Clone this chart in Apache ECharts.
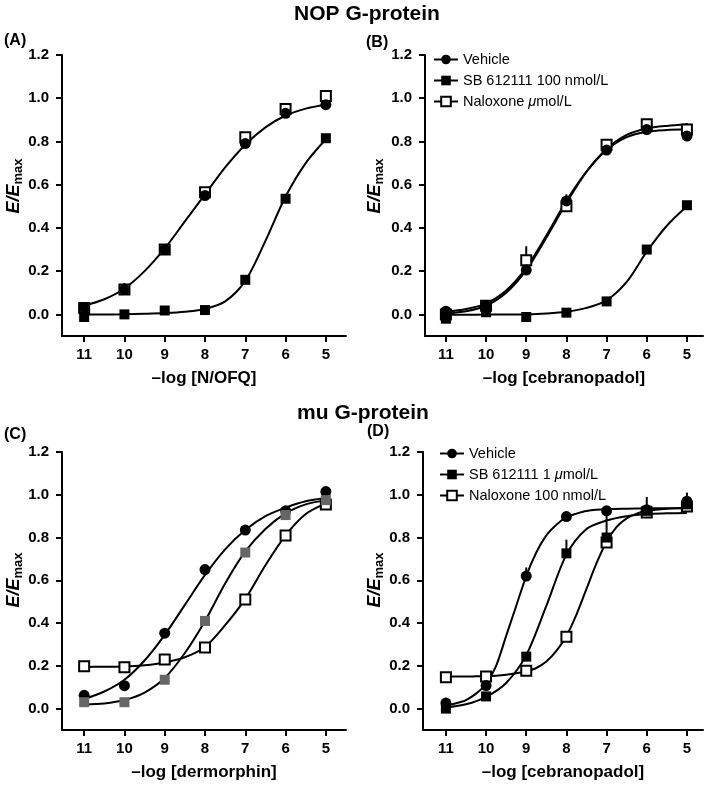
<!DOCTYPE html>
<html>
<head>
<meta charset="utf-8">
<script src="https://cdn.jsdelivr.net/npm/echarts@6/dist/echarts.min.js"></script>
<style>
  html, body { margin: 0; padding: 0; background: #fff; }
  #chart { width: 709px; height: 787px; }
</style>
</head>
<body>
<div id="chart"></div>
<script>
// -log concentration of each point, same for every panel
const doses = [11, 10, 9, 8, 7, 6, 5];
const xTicks = [11, 10, 9, 8, 7, 6, 5];
const yTicks = [0, 0.2, 0.4, 0.6, 0.8, 1.0, 1.2];

// (A) NOP, N/OFQ
const vehA = [0.03, 0.115, 0.30, 0.55, 0.79, 0.93, 0.97];
const sbA = [-0.012, 0.0, 0.018, 0.02, 0.16, 0.535, 0.815];
const nalA = [0.03, 0.115, 0.30, 0.565, 0.82, 0.95, 1.01];
const fitVehA = [[11, 0.04], [10.5, 0.07], [10, 0.12], [9.5, 0.20], [9, 0.305], [8.5, 0.43], [8, 0.555], [7.5, 0.68], [7, 0.785], [6.5, 0.865], [6, 0.92], [5.5, 0.952], [5, 0.97]];
const fitSbA = [[11, 0.0], [10.5, 0.0], [10, 0.001], [9.5, 0.003], [9, 0.006], [8.5, 0.012], [8, 0.025], [7.5, 0.06], [7, 0.155], [6.5, 0.34], [6, 0.545], [5.5, 0.70], [5, 0.81]];
const errA = [[10, 0.12, 0.145]];

// (B) NOP, cebranopadol
const vehB = [0.015, 0.04, 0.205, 0.525, 0.76, 0.855, 0.825];
const sbB = [-0.02, 0.01, -0.012, 0.008, 0.06, 0.30, 0.505];
const nalB = [0.0, 0.04, 0.25, 0.50, 0.785, 0.88, 0.855];
const fitVehB = [[11, 0.012], [10.5, 0.025], [10, 0.05], [9.5, 0.11], [9, 0.215], [8.5, 0.365], [8, 0.525], [7.5, 0.66], [7, 0.76], [6.5, 0.82], [6, 0.845], [5.5, 0.853], [5, 0.856]];
const fitNalB = [[11, 0.005], [10.5, 0.015], [10, 0.04], [9.5, 0.10], [9, 0.205], [8.5, 0.355], [8, 0.515], [7.5, 0.66], [7, 0.765], [6.5, 0.83], [6, 0.86], [5.5, 0.872], [5, 0.878]];
const fitSbB = [[11, -0.002], [10.5, -0.002], [10, -0.001], [9.5, -0.001], [9, 0.0], [8.5, 0.004], [8, 0.012], [7.5, 0.03], [7, 0.065], [6.5, 0.15], [6, 0.29], [5.5, 0.41], [5, 0.50]];
const errB = [[9, 0.25, 0.315], [8, 0.525, 0.555], [5, 0.855, 0.885]];

// (C) mu, dermorphin
const vehC = [0.062, 0.107, 0.353, 0.65, 0.835, 0.925, 1.015];
const sbC = [0.03, 0.03, 0.135, 0.41, 0.73, 0.905, 0.975];
const nalC = [0.198, 0.194, 0.23, 0.286, 0.51, 0.81, 0.955];
const fitVehC = [[11, 0.045], [10.5, 0.08], [10, 0.135], [9.5, 0.225], [9, 0.345], [8.5, 0.485], [8, 0.625], [7.5, 0.745], [7, 0.835], [6.5, 0.9], [6, 0.94], [5.5, 0.97], [5, 0.985]];
const fitSbC = [[11, 0.019], [10.5, 0.024], [10, 0.04], [9.5, 0.075], [9, 0.143], [8.5, 0.26], [8, 0.41], [7.5, 0.585], [7, 0.735], [6.5, 0.84], [6, 0.913], [5.5, 0.955], [5, 0.975]];
const fitNalC = [[11, 0.195], [10.5, 0.196], [10, 0.197], [9.5, 0.203], [9, 0.216], [8.5, 0.24], [8, 0.288], [7.5, 0.39], [7, 0.513], [6.5, 0.67], [6, 0.81], [5.5, 0.91], [5, 0.96]];
const errC = [[9, 0.23, 0.255]];

// (D) mu, cebranopadol
const vehD = [0.026, 0.108, 0.62, 0.898, 0.925, 0.93, 0.97];
const sbD = [0.0, 0.057, 0.243, 0.726, 0.80, 0.925, 0.955];
const nalD = [0.147, 0.15, 0.177, 0.336, 0.777, 0.917, 0.945];
const fitVehD = [[11, 0.015], [10.75, 0.025], [10.5, 0.04], [10.25, 0.07], [10, 0.115], [9.75, 0.2], [9.5, 0.34], [9.25, 0.48], [9, 0.62], [8.75, 0.73], [8.5, 0.81], [8.25, 0.86], [8, 0.895], [7.75, 0.912], [7.5, 0.924], [7, 0.933], [6.5, 0.935], [6, 0.936], [5.5, 0.937], [5, 0.937]];
const fitSbD = [[11, 0.005], [10.5, 0.02], [10, 0.055], [9.5, 0.12], [9, 0.25], [8.5, 0.48], [8, 0.72], [7.5, 0.84], [7, 0.88], [6.5, 0.90], [6, 0.91], [5.5, 0.913], [5, 0.915]];
const fitNalD = [[11, 0.15], [10.75, 0.15], [10.5, 0.15], [10.25, 0.151], [10, 0.152], [9.75, 0.154], [9.5, 0.158], [9.25, 0.165], [9, 0.175], [8.75, 0.19], [8.5, 0.22], [8.25, 0.27], [8, 0.34], [7.75, 0.44], [7.5, 0.56], [7.25, 0.68], [7, 0.78], [6.75, 0.85], [6.5, 0.89], [6.25, 0.912], [6, 0.925], [5.5, 0.935], [5, 0.938]];
const errD = [[9, 0.62, 0.66], [8, 0.726, 0.79], [7, 0.80, 0.93], [6, 0.925, 0.99], [5, 0.97, 1.01]];

const FONT = '"Liberation Sans", Arial, Helvetica, sans-serif';
const legendB = ['Vehicle', 'SB 612111 100 nmol/L', 'Naloxone μmol/L'];
const legendD = ['Vehicle', 'SB 612111 1 μmol/L', 'Naloxone 100 nmol/L'];

const chart = echarts.init(document.getElementById('chart'));

// 面板位置
const grids = [
  { left: 62, top: 55, width: 284, height: 281 },
  { left: 425, top: 55, width: 278, height: 281 },
  { left: 62, top: 452, width: 284, height: 278 },
  { left: 423, top: 452, width: 280, height: 278 }
];
const xRanges = [[4.5, 11.55], [4.6, 11.52], [4.5, 11.55], [4.6, 11.57]];
const xNames = ['–log [N/OFQ]', '–log [cebranopadol]', '–log [dermorphin]', '–log [cebranopadol]'];

const xAxes = grids.map((g, i) => ({
  gridIndex: i,
  type: 'value',
  inverse: true,
  min: xRanges[i][0],
  max: xRanges[i][1],
  name: xNames[i],
  nameLocation: 'middle',
  nameGap: 34,
  nameTextStyle: { fontFamily: FONT, fontWeight: 'bold', fontSize: 17, color: '#000' },
  axisLine: { onZero: false, lineStyle: { color: '#000', width: 2 } },
  axisTick: { customValues: xTicks, length: 6, lineStyle: { color: '#000', width: 2 } },
  axisLabel: { customValues: xTicks, margin: 11, fontFamily: FONT, fontWeight: 'bold', fontSize: 15, color: '#000' },
  splitLine: { show: false }
}));

const yAxes = grids.map((g, i) => ({
  gridIndex: i,
  type: 'value',
  min: -0.1,
  max: 1.2,
  axisLine: { onZero: false, lineStyle: { color: '#000', width: 2 } },
  axisTick: { customValues: yTicks, length: 6, lineStyle: { color: '#000', width: 2 } },
  axisLabel: {
    customValues: yTicks, margin: 13, fontFamily: FONT, fontWeight: 'bold', fontSize: 15, color: '#000',
    formatter: v => v.toFixed(1)
  },
  splitLine: { show: false }
}));

function toPairs(vals) {
  return doses.map((d, k) => [d, vals[k]]);
}

function fitLine(i, data) {
  return {
    type: 'line', name: 'fit' + i, xAxisIndex: i, yAxisIndex: i,
    data: data, showSymbol: false, silent: true, z: 2,
    smooth: 0.3,
    lineStyle: { color: '#000', width: 2 }
  };
}

function points(i, name, vals, kind, color) {
  const sym = kind === 'circle' ? 'circle' : 'rect';
  const open = kind === 'open';
  return {
    type: 'line', name: name, xAxisIndex: i, yAxisIndex: i,
    data: toPairs(vals), symbol: sym, symbolSize: kind === 'circle' ? 11 : 10,
    showAllSymbol: true, z: open ? 3 : 4,
    lineStyle: { opacity: 0 },
    itemStyle: open
      ? { color: '#fff', borderColor: '#000', borderWidth: 2 }
      : { color: color || '#000', borderWidth: 0 }
  };
}

function errBars(i, data) {
  return {
    type: 'custom', name: 'err' + i, xAxisIndex: i, yAxisIndex: i, silent: true, z: 3,
    data: data,
    encode: { x: 0, y: [1, 2] },
    renderItem: (params, api) => {
      const p0 = api.coord([api.value(0), api.value(1)]);
      const p1 = api.coord([api.value(0), api.value(2)]);
      return {
        type: 'line',
        shape: { x1: p0[0], y1: p0[1], x2: p1[0], y2: p1[1] },
        style: { stroke: '#000', lineWidth: 2 }
      };
    }
  };
}

const series = [
  fitLine(0, fitVehA), fitLine(0, fitSbA),
  points(0, 'A-nal', nalA, 'open'), points(0, 'A-veh', vehA, 'circle'), points(0, 'A-sb', sbA, 'filled'),
  errBars(0, errA),

  fitLine(1, fitVehB), fitLine(1, fitNalB), fitLine(1, fitSbB),
  points(1, legendB[2], nalB, 'open'), points(1, legendB[0], vehB, 'circle'), points(1, legendB[1], sbB, 'filled'),
  errBars(1, errB),

  fitLine(2, fitVehC), fitLine(2, fitSbC), fitLine(2, fitNalC),
  points(2, 'C-nal', nalC, 'open'), points(2, 'C-veh', vehC, 'circle'), points(2, 'C-sb', sbC, 'filled', '#666'),
  errBars(2, errC),

  fitLine(3, fitVehD), fitLine(3, fitSbD), fitLine(3, fitNalD),
  points(3, legendD[2], nalD, 'open'), points(3, 'D-veh', vehD, 'circle'), points(3, legendD[1], sbD, 'filled'),
  errBars(3, errD)
];

function legendCfg(names, left, top) {
  return {
    data: names, orient: 'vertical', left: left, top: top,
    itemWidth: 24, itemHeight: 12, itemGap: 6, selectedMode: false,
    lineStyle: { opacity: 1, width: 2, color: '#000' },
    textStyle: {
      fontFamily: FONT, fontSize: 14.5, color: '#000',
      rich: { i: { fontFamily: FONT, fontSize: 14.5, fontStyle: 'italic', color: '#000' } }
    },
    formatter: n => n.replace('μ', '{i|μ}')
  };
}

// 坐标轴名称 E/Emax、面板标记和标题
function yName(x, y) {
  return {
    type: 'text', x: x, y: y, rotation: Math.PI / 2,
    style: {
      text: '{i|E/E}{s|max}',
      align: 'center', verticalAlign: 'middle',
      rich: {
        i: { fontFamily: FONT, fontSize: 18, fontWeight: 'bold', fontStyle: 'italic', fill: '#000', lineHeight: 21 },
        s: { fontFamily: FONT, fontSize: 13, fontWeight: 'bold', fill: '#000', lineHeight: 13, verticalAlign: 'bottom' }
      }
    }
  };
}
function label(text, x, y, size, alignH) {
  return {
    type: 'text', x: x, y: y,
    style: { text: text, fontFamily: FONT, fontSize: size, fontWeight: 'bold', fill: '#000', align: alignH || 'left', verticalAlign: 'middle' }
  };
}

chart.setOption({
  animation: false,
  backgroundColor: '#fff',
  grid: grids,
  xAxis: xAxes,
  yAxis: yAxes,
  legend: [legendCfg(legendB, 428, 47), legendCfg(legendD, 434, 441)],
  series: series,
  graphic: [
    label('NOP G-protein', 367, 14, 21, 'center'),
    label('mu G-protein', 363, 413, 21, 'center'),
    label('(A)', 4, 41, 16), label('(B)', 366, 43, 16),
    label('(C)', 4, 435, 16), label('(D)', 367, 432, 16),
    yName(14, 186), yName(375, 186), yName(14, 580), yName(375, 580)
  ]
});

window.addEventListener('resize', () => chart.resize());
</script>
</body>
</html>
